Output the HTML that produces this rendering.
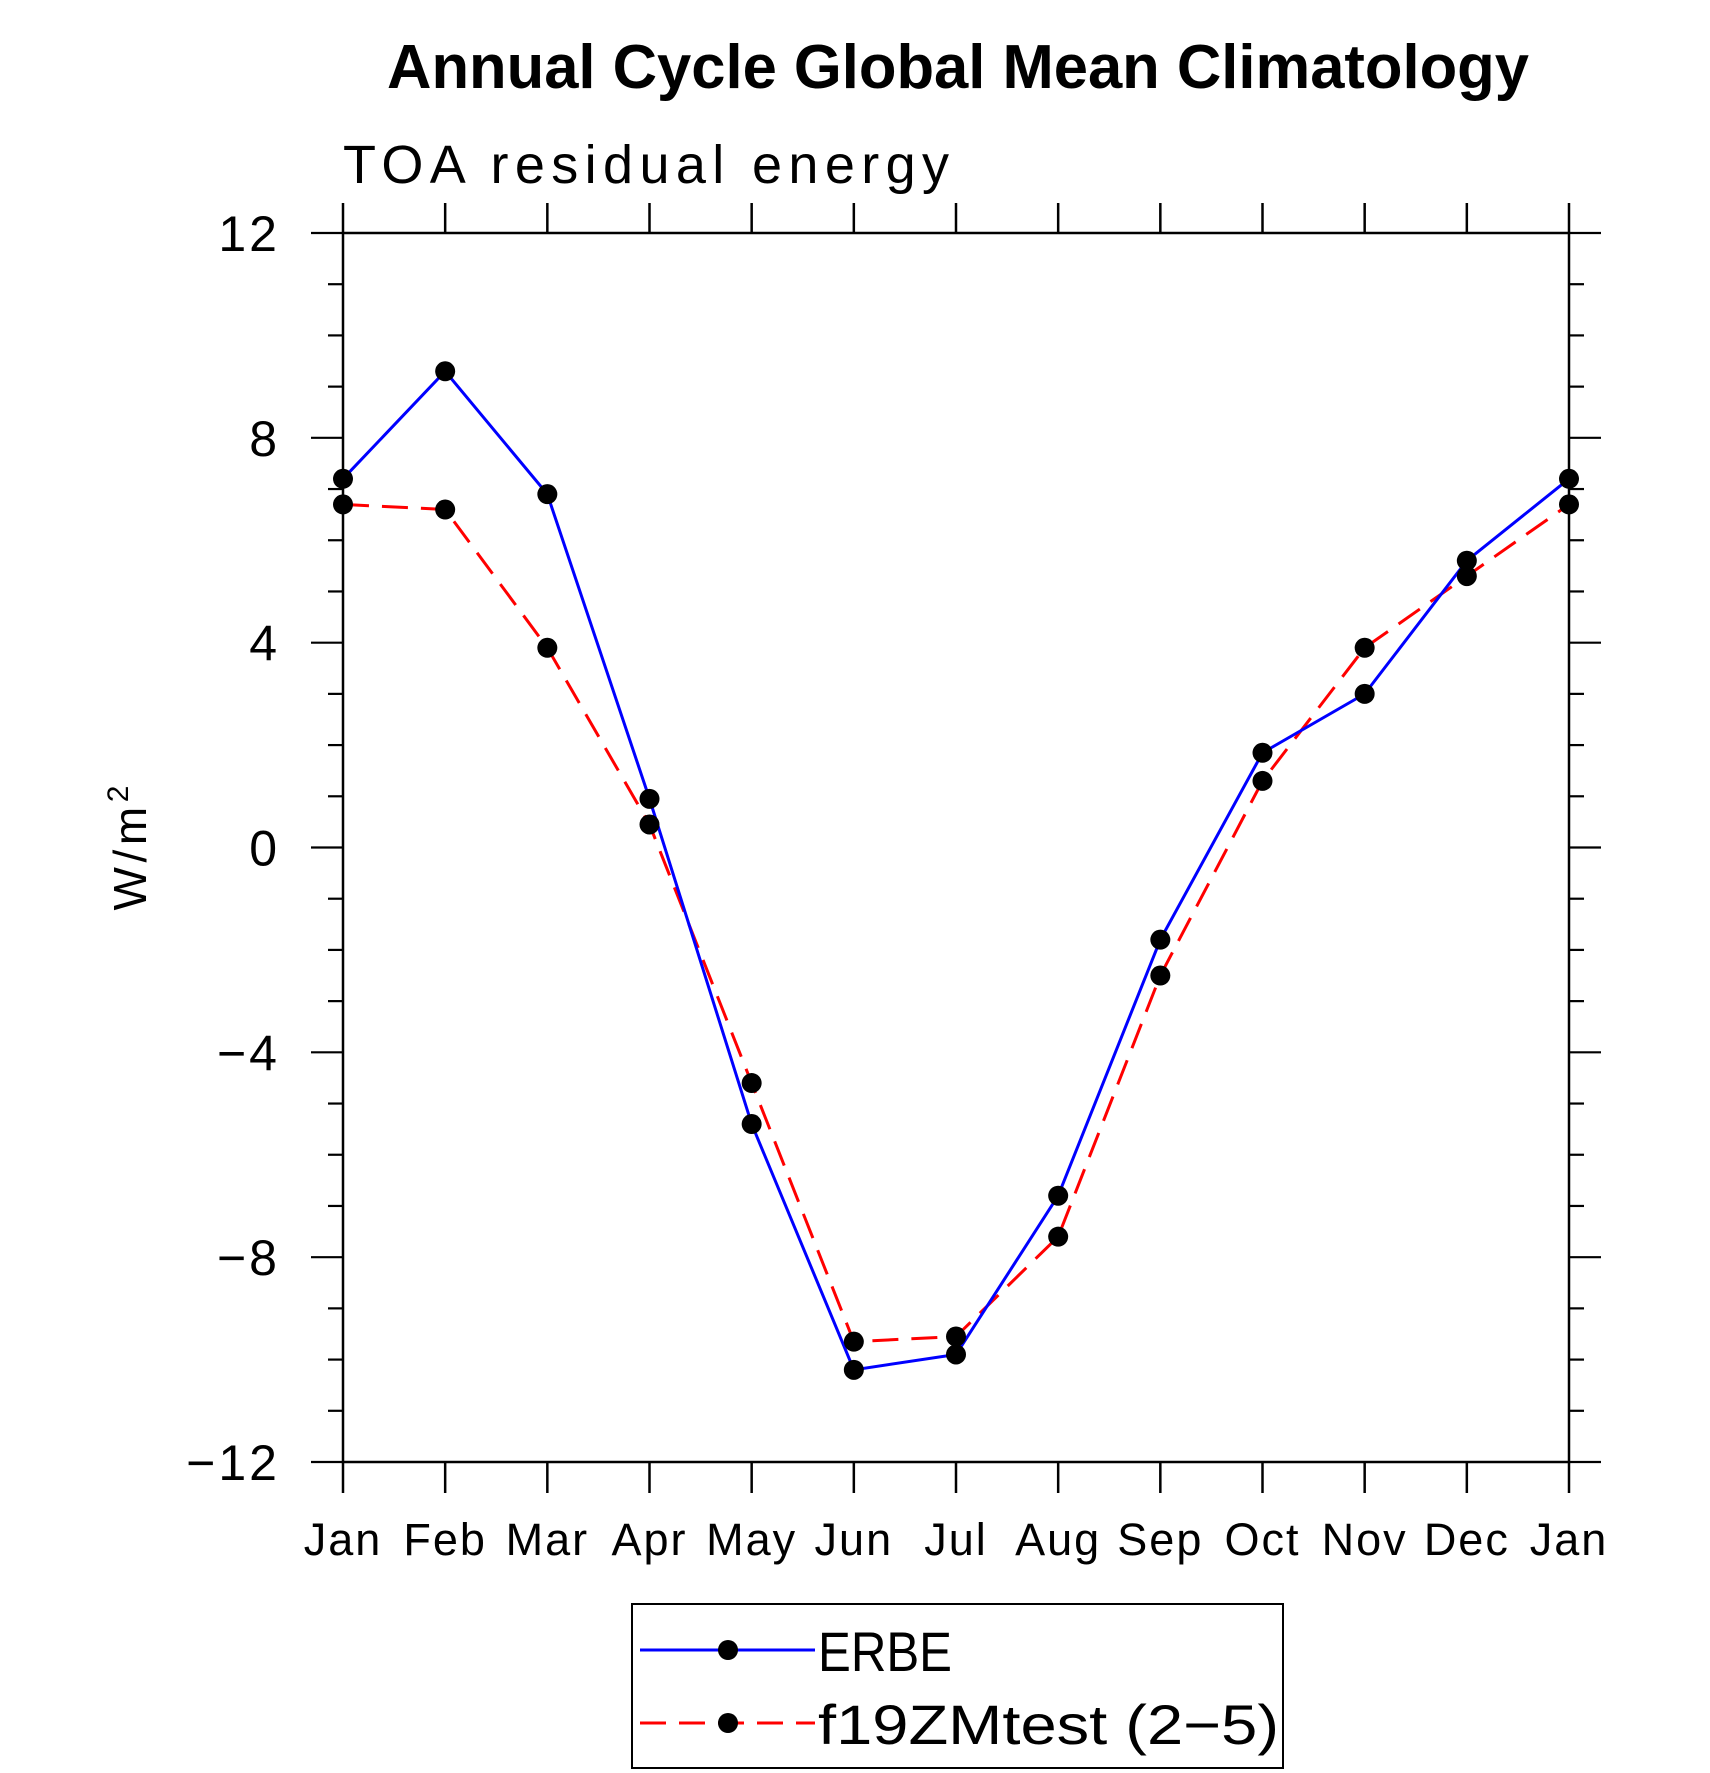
<!DOCTYPE html>
<html><head><meta charset="utf-8"><style>
html,body{margin:0;padding:0;background:#fff;}
svg{display:block;}
text{font-family:"Liberation Sans",sans-serif;}
</style></head><body>
<svg id="chart" width="1710" height="1773" viewBox="0 0 1710 1773" xmlns="http://www.w3.org/2000/svg">
<text x="958" y="88" font-size="62" font-weight="bold" text-anchor="middle" textLength="1142" lengthAdjust="spacingAndGlyphs">Annual Cycle Global Mean Climatology</text>
<text x="343" y="183" font-size="54" textLength="606" lengthAdjust="spacing">TOA residual energy</text>
<text transform="translate(146,848) rotate(-90)" font-size="46" text-anchor="middle" textLength="125" lengthAdjust="spacing">W/m<tspan dy="-18" font-size="30">2</tspan></text>
<g id="axes"></g>
<g id="series"></g>
<g>
<rect x="632" y="1604" width="651" height="164" fill="none" stroke="#000" stroke-width="2"/>
<g>
<line x1="640" y1="1650" x2="815" y2="1650" stroke="#0000ff" stroke-width="3"/>
<circle cx="728" cy="1650" r="10" fill="#000"/>
<text x="818" y="1671" font-size="56" textLength="134" lengthAdjust="spacingAndGlyphs">ERBE</text>
</g>
<g>
<line x1="640" y1="1723" x2="815" y2="1723" stroke="#ff0000" stroke-width="3" stroke-dasharray="26,13"/>
<circle cx="728" cy="1723" r="10" fill="#000"/>
<text x="818" y="1744" font-size="56" textLength="461" lengthAdjust="spacingAndGlyphs">f19ZMtest (2−5)</text>
</g>
</g>
</svg>
<script>
const months = ["Jan","Feb","Mar","Apr","May","Jun","Jul","Aug","Sep","Oct","Nov","Dec","Jan"];
const erbe = [7.2, 9.3, 6.9, 0.95, -5.4, -10.2, -9.9, -6.8, -1.8, 1.85, 3.0, 5.6, 7.2];
const f19 = [6.7, 6.6, 3.9, 0.45, -4.6, -9.65, -9.55, -7.6, -2.5, 1.3, 3.9, 5.3, 6.7];
const yTicks = [-12, -8, -4, 0, 4, 8, 12];
const yTickLabels = ["−12","−8","−4","0","4","8","12"];

const NS = "http://www.w3.org/2000/svg";
const L = 343, R = 1569, T = 233, B = 1462;
const yMin = -12, yMax = 12;
function xs(i){ return L + (R - L) * i / (months.length - 1); }
function ys(v){ return B - (v - yMin) / (yMax - yMin) * (B - T); }
function mk(tag, attrs, parent){
  const e = document.createElementNS(NS, tag);
  for (const k in attrs) e.setAttribute(k, attrs[k]);
  parent.appendChild(e);
  return e;
}
const axes = document.getElementById("axes");
const frame = mk("rect", {x:L, y:T, width:R-L, height:B-T, fill:"none", stroke:"#000", "stroke-width":2.5}, axes);


months.forEach((m, i) => {
  const x = xs(i);
  const t1 = mk("line", {x1:x, y1:T-30, x2:x, y2:T, stroke:"#000", "stroke-width":2.5}, axes);
  
  
  const t2 = mk("line", {x1:x, y1:B, x2:x, y2:B+31, stroke:"#000", "stroke-width":2.5}, axes);
  
  
  const lb = mk("text", {x:x, y:1555, "font-size":45, "text-anchor":"middle", "letter-spacing":"2"}, axes);
  lb.textContent = m;
  
  
});
for (let v = yMin; v <= yMax + 1e-9; v += 1) {
  const major = Math.abs(v % 4) < 1e-9;
  const y = ys(v);
  const len = major ? 32 : 15;
  const a = mk("line", {x1:L-len, y1:y, x2:L, y2:y, stroke:"#000", "stroke-width":2.2}, axes);
  
  
  const b = mk("line", {x1:R, y1:y, x2:R+len, y2:y, stroke:"#000", "stroke-width":2.2}, axes);
  
  
}
yTicks.forEach((v, i) => {
  const lb = mk("text", {x:280, y:ys(v)+18, "font-size":50, "text-anchor":"end", "letter-spacing":"3"}, axes);
  lb.textContent = yTickLabels[i];
  
  
});
const series = document.getElementById("series");
function drawSeries(vals, color, dash, name){
  const pts = vals.map((v, i) => xs(i) + "," + ys(v)).join(" ");
  const pl = mk("polyline", {points:pts, fill:"none", stroke:color, "stroke-width":3, "stroke-dasharray":dash}, series);
  
  
}
function drawDots(vals, name){
  vals.forEach((v, i) => {
    const c = mk("circle", {cx:xs(i), cy:ys(v), r:10, fill:"#000"}, series);
    
    
  });
}
drawSeries(f19, "#ff0000", "26,13", "f19zmtest");
drawSeries(erbe, "#0000ff", "none", "erbe");
drawDots(f19, "f19zmtest");
drawDots(erbe, "erbe");
</script>
</body></html>
